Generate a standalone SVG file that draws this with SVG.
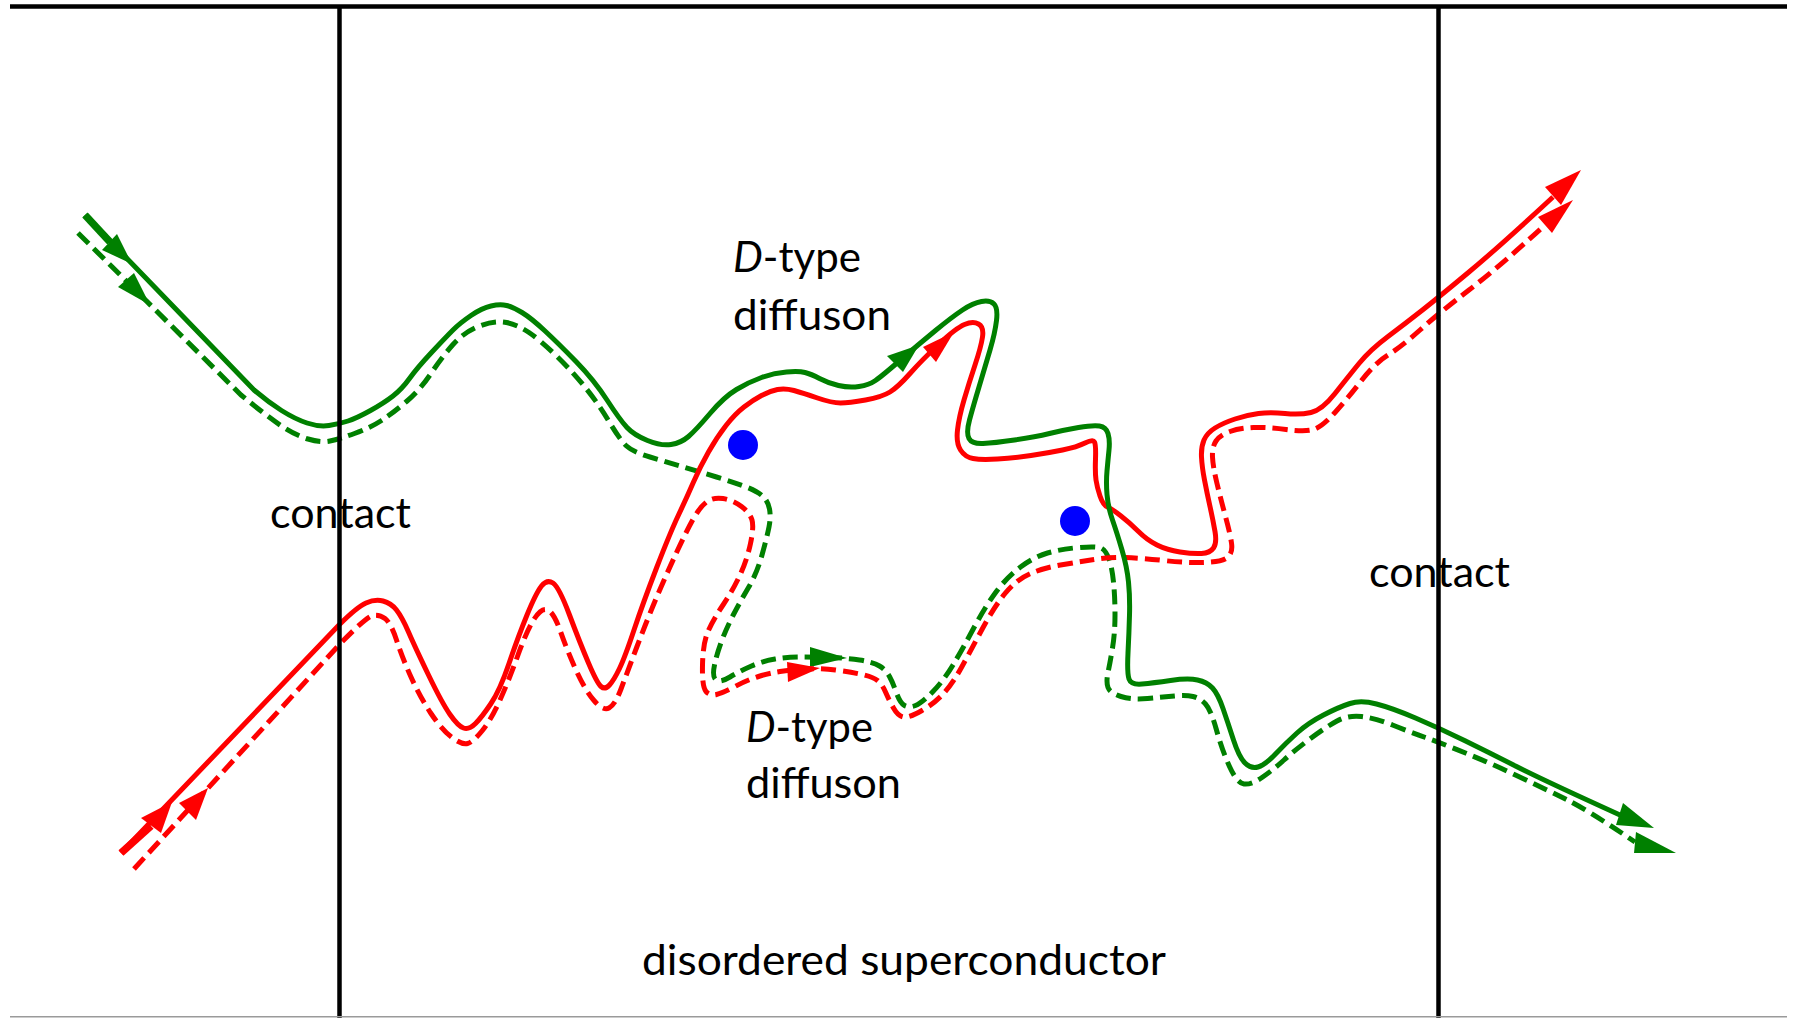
<svg xmlns="http://www.w3.org/2000/svg" width="1795" height="1018" viewBox="0 0 1795 1018">
  <style>
    .frame { stroke: #000; stroke-width: 4.5; fill: none; }
    .traj { fill: none; stroke-width: 5; stroke-linecap: butt; stroke-linejoin: round; }
    .green { stroke: #008000; }
    .red { stroke: #ff0000; }
    .dash { stroke-dasharray: 15 7; }
    .stub { stroke-width: 7.5; fill: none; }
    .head-g { fill: #008000; }
    .head-r { fill: #ff0000; }
    .dot { fill: #0000ff; }
    .lbl { font-family: Lato, "Liberation Sans", sans-serif; font-size: 43px; fill: #000; }
  </style>
  <rect width="1795" height="1018" fill="#fff"/>

  <!-- electron / hole trajectories -->
  <g id="connectors">
    <!-- green, dashed -->
    <path class="traj green dash" d="M78,233 L241,395 Q268,417 281.5,426 Q295,435 308,439 Q321,443 330,441 Q339,439 354.5,433.5 Q370,428 381.5,420.5 Q393,413 406.5,401.5 Q420,390 431,373.5 Q442,357 453,344.5 Q464,332 479.5,326 Q495,320 506.5,322.5 Q518,325 529,332.5 Q540,340 555.5,355 Q571,370 584.5,386.5 Q598,403 609,421.5 Q620,440 626.5,446 Q633,452 650,457 Q667,462 683.5,467 Q700,472 716.5,477 Q733,482 745,486.5 Q757,491 762.5,496 Q768,501 769.5,509 Q771,517 769,527 Q767,537 762,555 Q757,573 748.5,587.5 Q740,602 733.5,614.5 Q727,627 722,640 Q717,653 714.5,665 Q712,677 716,680 Q720,683 730,677 Q740,671 751.5,666 Q763,661 775,659 Q787,657 800,657 Q813,657 829.5,657.5 Q846,658 859.5,660 Q873,662 879.5,666 Q886,670 889.5,676.5 Q893,683 896.5,693 Q900,703 904.5,705.5 Q909,708 915.5,705.5 Q922,703 933,691.5 Q944,680 953,665 Q962,650 973.5,628.5 Q985,607 996,592 Q1007,577 1020.5,567 Q1034,557 1047.5,553 Q1061,549 1079.5,547.5 Q1098,546 1102,548.5 Q1106,551 1109,559 Q1112,567 1113.5,582 Q1115,597 1115,615 Q1115,633 1112.5,648 Q1110,663 1108,672.5 Q1106,682 1108,687.5 Q1110,693 1121,696.5 Q1132,700 1147.5,698.5 Q1163,697 1174.5,696 Q1186,695 1193,696.5 Q1200,698 1205.5,704 Q1211,710 1216.5,730 Q1222,750 1229.5,766.5 Q1237,783 1244,784 Q1251,785 1262,777.5 Q1273,770 1284,760 Q1295,750 1310.5,738.5 Q1326,727 1337,721 Q1348,715 1361.5,716.5 Q1375,718 1392.5,725 Q1410,732 1425.5,737.5 Q1441,743 1465.5,753 Q1490,763 1516.5,775.5 Q1543,788 1565.5,799 Q1588,810 1635,842"/>
    <polygon class="head-g" points="150,305 134,273 118,287"/>
    <polygon class="head-g" points="847,658 810,647 810,667"/>
    <polygon class="head-g" points="1676,853 1636,832 1634,853"/>

    <!-- red, dashed -->
    <path class="traj red dash" d="M134,869 L339,645 Q366,617 372.5,615.5 Q379,614 385,618.5 Q391,623 396.5,640 Q402,657 411,677 Q420,697 431,713.5 Q442,730 452,737.5 Q462,745 467.5,743.5 Q473,742 482,731 Q491,720 500,700 Q509,680 518,655 Q527,630 534.5,618.5 Q542,607 548,610 Q554,613 560.5,631.5 Q567,650 576,670 Q585,690 594,700.5 Q603,711 609,708 Q615,705 621,689 Q627,673 637,646.5 Q647,620 657,596.5 Q667,573 677,551.5 Q687,530 693.5,518.5 Q700,507 706.5,502 Q713,497 723,498.5 Q733,500 741.5,506.5 Q750,513 752,520 Q754,527 750.5,543.5 Q747,560 740,575 Q733,590 723,605 Q713,620 708,631.5 Q703,643 702.5,665 Q702,687 706,691.5 Q710,696 716.5,694.5 Q723,693 735,686.5 Q747,680 758.5,676.5 Q770,673 780,671.5 Q790,670 805,669 Q820,668 835.5,670 Q851,672 862,674.5 Q873,677 877.5,680.5 Q882,684 885.5,692 Q889,700 893.5,708 Q898,716 903.5,717 Q909,718 922,710.5 Q935,703 944,693 Q953,683 962,666.5 Q971,650 982.5,628.5 Q994,607 1005,593.5 Q1016,580 1029.5,574 Q1043,568 1060.5,565 Q1078,562 1094,559.5 Q1110,557 1125.5,557.5 Q1141,558 1163.5,560.5 Q1186,563 1204,562.5 Q1222,562 1227.5,557.5 Q1233,553 1231.5,543 Q1230,533 1225.5,516.5 Q1221,500 1217,483.5 Q1213,467 1212.5,457 Q1212,447 1216,441 Q1220,435 1230,431.5 Q1240,428 1253.5,427.5 Q1267,427 1286,429.5 Q1305,432 1313.5,429.5 Q1322,427 1335,412.5 Q1348,398 1361.5,380.5 Q1375,363 1388,355 Q1401,347 1420,330 Q1439,313 1469,290 Q1499,267 1545,225"/>
    <polygon class="head-r" points="208,788 179,803 196,820"/>
    <polygon class="head-r" points="820,668 787,662 788,682"/>
    <polygon class="head-r" points="1573,200 1538,217 1552,233"/>

    <!-- red, solid -->
    <path class="traj red" d="M121,853 L339,625 Q357,607 366,603 Q375,599 383,601 Q391,603 396.5,610 Q402,617 408.5,632 Q415,647 428.5,675 Q442,703 450,714.5 Q458,726 463.5,728 Q469,730 475.5,723.5 Q482,717 491,703.5 Q500,690 509,663.5 Q518,637 527,615 Q536,593 541.5,586 Q547,579 553,583 Q559,587 569.5,615 Q580,643 588.5,663 Q597,683 601,686.5 Q605,690 609.5,685 Q614,680 619.5,668.5 Q625,657 634,630 Q643,603 656.5,568 Q670,533 678.5,515 Q687,497 693.5,482 Q700,467 708.5,452 Q717,437 726,425.5 Q735,414 744,407 Q753,400 761.5,395.5 Q770,391 777.5,389.5 Q785,388 794,390.5 Q803,393 817.5,398 Q832,403 840.5,403 Q849,403 865.5,400 Q882,397 890,392 Q898,387 910,373.5 Q922,360 939,344 Q956,328 964.5,324.5 Q973,321 978.5,324 Q984,327 982.5,337 Q981,347 975,365 Q969,383 964,400 Q959,417 957.5,430 Q956,443 960.5,450 Q965,457 973,458.5 Q981,460 997.5,459 Q1014,458 1031,455.5 Q1048,453 1062.5,450 Q1077,447 1085,443 Q1093,439 1094.5,442 Q1096,445 1095.5,459 Q1095,473 1096,480 Q1097,487 1100,496 Q1103,505 1107.5,507 Q1112,509 1121,516 Q1130,523 1138.5,531.5 Q1147,540 1157,545 Q1167,550 1180,552 Q1193,554 1201.5,553.5 Q1210,553 1213.5,548 Q1217,543 1215,531.5 Q1213,520 1210,506.5 Q1207,493 1204.5,480 Q1202,467 1201.5,457 Q1201,447 1204,440 Q1207,433 1215,428 Q1223,423 1235,419 Q1247,415 1258.5,413.5 Q1270,412 1285,413.5 Q1300,415 1311,412.5 Q1322,410 1335,393.5 Q1348,377 1359,363.5 Q1370,350 1388,336.5 Q1406,323 1422.5,310 Q1439,297 1469,272 Q1499,247 1553,197"/>
    <line class="stub red" x1="121" y1="853" x2="151" y2="826"/>
    <polygon class="head-r" points="172,802 141,818 161,833"/>
    <polygon class="head-r" points="954,332 923,347 936,362"/>
    <polygon class="head-r" points="1581,170 1545,187 1561,205"/>

    <!-- green, solid -->
    <path class="traj green" d="M85,215 L254,390 Q268,402 281.5,410.5 Q295,419 307,423 Q319,427 329,425.5 Q339,424 348,421 Q357,418 370.5,410.5 Q384,403 393,396 Q402,389 409.5,378.5 Q417,368 431.5,352.5 Q446,337 453,330 Q460,323 471,315.5 Q482,308 491,306 Q500,304 506.5,305.5 Q513,307 522,312.5 Q531,318 544.5,330.5 Q558,343 576,361.5 Q594,380 607,400 Q620,420 627,427.5 Q634,435 647.5,440.5 Q661,446 671,444.5 Q681,443 688.5,436.5 Q696,430 710,413.5 Q724,397 736.5,389.5 Q749,382 761.5,377.5 Q774,373 786.5,372 Q799,371 805,372.5 Q811,374 819.5,378.5 Q828,383 838.5,385.5 Q849,388 859,386.5 Q869,385 875.5,380.5 Q882,376 900.5,360 Q919,344 935.5,330.5 Q952,317 962.5,310 Q973,303 981.5,301.5 Q990,300 994,304 Q998,308 996.5,320.5 Q995,333 990,350 Q985,367 979,387 Q973,407 969.5,420 Q966,433 969,438.5 Q972,444 983,443.5 Q994,443 1014.5,440 Q1035,437 1049.5,433.5 Q1064,430 1078.5,427.5 Q1093,425 1099.5,426 Q1106,427 1108,433.5 Q1110,440 1109,450 Q1108,460 1107,471 Q1106,482 1107,494.5 Q1108,507 1112.5,520 Q1117,533 1122,550 Q1127,567 1128.5,582 Q1130,597 1129.5,615 Q1129,633 1128,653 Q1127,673 1129,679 Q1131,685 1142,684 Q1153,683 1170.5,680.5 Q1188,678 1197.5,680 Q1207,682 1212.5,688 Q1218,694 1223,708.5 Q1228,723 1233.5,740 Q1239,757 1245,763 Q1251,769 1258,767 Q1265,765 1275.5,754 Q1286,743 1297,733 Q1308,723 1323.5,715 Q1339,707 1350,703.5 Q1361,700 1376.5,704 Q1392,708 1415.5,718 Q1439,728 1464.5,740.5 Q1490,753 1516.5,766.5 Q1543,780 1620,815"/>
    <line class="stub green" x1="85" y1="215" x2="110" y2="242"/>
    <polygon class="head-g" points="132,264 117,234 102,250"/>
    <polygon class="head-g" points="919,345 887,356 903,372"/>
    <polygon class="head-g" points="1654,828 1623,803 1616,825"/>
  </g>

  <!-- scattering impurities -->
  <g id="impurity-1"><circle class="dot" cx="743" cy="445" r="15"/></g>
  <g id="impurity-2"><circle class="dot" cx="1075" cy="521" r="15"/></g>

  <!-- sample boundaries -->
  <g id="frame">
    <line class="frame" x1="10" y1="6.5" x2="1787" y2="6.5" stroke-width="5"/>
    <line class="frame" x1="339.5" y1="6" x2="339.5" y2="1018"/>
    <line class="frame" x1="1438.5" y1="6" x2="1438.5" y2="1018"/>
    <line x1="10" y1="1016.8" x2="1787" y2="1016.8" stroke="#9a9a9a" stroke-width="1.6"/>
  </g>

  <!-- labels -->
  <g id="label-contact-left"><text class="lbl" x="270" y="528" textLength="141" lengthAdjust="spacingAndGlyphs">contact</text></g>
  <g id="label-contact-right"><text class="lbl" x="1369" y="587" textLength="141" lengthAdjust="spacingAndGlyphs">contact</text></g>
  <g id="label-diffuson-top">
    <text class="lbl" x="733" y="272" textLength="128" lengthAdjust="spacingAndGlyphs"><tspan font-style="italic">D</tspan>-type</text>
    <text class="lbl" x="733" y="330" textLength="158" lengthAdjust="spacingAndGlyphs">diffuson</text>
  </g>
  <g id="label-diffuson-bottom">
    <text class="lbl" x="746" y="742" textLength="127" lengthAdjust="spacingAndGlyphs"><tspan font-style="italic">D</tspan>-type</text>
    <text class="lbl" x="746" y="798" textLength="155" lengthAdjust="spacingAndGlyphs">diffuson</text>
  </g>
  <g id="label-sample"><text class="lbl" x="642" y="975" textLength="524" lengthAdjust="spacingAndGlyphs">disordered superconductor</text></g>
</svg>
